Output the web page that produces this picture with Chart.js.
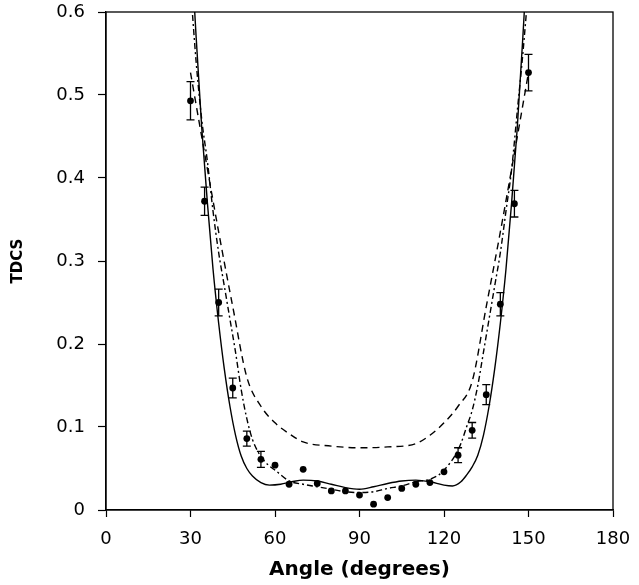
<!DOCTYPE html>
<html>
<head>
<meta charset="utf-8">
<script src="https://cdn.jsdelivr.net/npm/chart.js@4/dist/chart.umd.min.js"></script>
<style>
  html, body { margin: 0; padding: 0; background: #ffffff; }
  #wrap { width: 639px; height: 585px; }
</style>
</head>
<body>
<div id="wrap"><canvas id="c" width="639" height="585"></canvas></div>
<script>
// ---- Data ----
const expAngles = [30,35,40,45,50,55,60,65,70,75,80,85,90,95,100,105,110,115,120,125,130,135,140,145,150];
const expValues = [0.493,0.372,0.250,0.147,0.086,0.061,0.054,0.031,0.049,0.032,0.023,0.023,0.018,0.007,0.015,0.026,0.031,0.033,0.046,0.066,0.096,0.139,0.248,0.369,0.527];
const expErrors = [0.023,0.017,0.016,0.012,0.009,0.0096,null,null,null,null,null,null,null,null,null,null,null,null,null,0.009,0.0094,0.012,0.014,0.016,0.022];

const solidAngles = [30,32,34,36,38,40,42,44,46,48,50,52,55,58,62,66,70,75,80,85,90,95,100,105,110,115,120,123,126,128,130,132,134,136,138,140,142,144,146,148,150];
const solidValues = [0.69,0.57,0.46,0.37,0.29,0.225,0.17,0.125,0.09,0.065,0.05,0.041,0.033,0.030,0.031,0.034,0.036,0.035,0.031,0.027,0.025,0.028,0.032,0.035,0.036,0.034,0.030,0.029,0.034,0.042,0.052,0.066,0.09,0.125,0.17,0.225,0.29,0.37,0.46,0.57,0.69];

const dashAngles = [30,35,40,45,50,55,60,65,70,80,90,100,110,115,120,125,130,135,140,145,150];
const dashValues = [0.527,0.43,0.335,0.245,0.16,0.125,0.105,0.092,0.082,0.077,0.075,0.076,0.080,0.09,0.105,0.125,0.155,0.245,0.335,0.43,0.527];

const dashDotAngles = [30,32,34,36,38,40,42,44,46,48,50,52,54,56,58,60,65,70,75,80,85,90,95,100,105,110,115,118,120,122,124,126,128,130,132,134,136,138,140,142,144,146,148,150];
const dashDotValues = [0.63,0.54,0.47,0.42,0.36,0.31,0.27,0.23,0.19,0.145,0.11,0.085,0.07,0.06,0.053,0.048,0.035,0.031,0.028,0.025,0.022,0.021,0.022,0.026,0.029,0.034,0.037,0.042,0.048,0.056,0.066,0.08,0.10,0.12,0.15,0.19,0.23,0.27,0.31,0.36,0.41,0.48,0.55,0.63];

const xTicks = [0,30,60,90,120,150,180];
const yTicks = [0,0.1,0.2,0.3,0.4,0.5,0.6];

const toXY = (xs, ys) => xs.map((x, i) => ({x: x, y: ys[i]}));

// frame (top and right borders)
const framePlugin = {
  id: 'frame',
  afterDraw(chart) {
    const {ctx, chartArea: a} = chart;
    ctx.save();
    ctx.strokeStyle = '#000';
    ctx.lineWidth = 1.3;
    ctx.strokeRect(a.left, a.top, a.right - a.left, a.bottom - a.top);
    ctx.restore();
  }
};

// error bars computed through the chart's scales
const errorBarPlugin = {
  id: 'errorBars',
  afterDatasetsDraw(chart) {
    const {ctx, scales: {x, y}} = chart;
    ctx.save();
    ctx.strokeStyle = '#000';
    ctx.lineWidth = 1.3;
    expAngles.forEach((a, i) => {
      const e = expErrors[i];
      if (e == null) return;
      const px = x.getPixelForValue(a);
      const y1 = y.getPixelForValue(expValues[i] + e);
      const y2 = y.getPixelForValue(expValues[i] - e);
      ctx.beginPath();
      ctx.moveTo(px, y1); ctx.lineTo(px, y2);
      ctx.moveTo(px - 4, y1); ctx.lineTo(px + 4, y1);
      ctx.moveTo(px - 4, y2); ctx.lineTo(px + 4, y2);
      ctx.stroke();
    });
    ctx.restore();
  }
};

new Chart(document.getElementById('c'), {
  type: 'scatter',
  data: {
    datasets: [
      {
        label: 'Experiment',
        data: toXY(expAngles, expValues),
        showLine: false,
        pointRadius: 3.4,
        pointHoverRadius: 3.4,
        backgroundColor: '#000',
        borderColor: '#000',
        borderWidth: 0
      },
      {
        label: 'Solid',
        data: toXY(solidAngles, solidValues),
        showLine: true,
        pointRadius: 0,
        borderColor: '#000',
        borderWidth: 1.4,
        cubicInterpolationMode: 'monotone',
        fill: false
      },
      {
        label: 'Dashed',
        data: toXY(dashAngles, dashValues),
        showLine: true,
        pointRadius: 0,
        borderColor: '#000',
        borderWidth: 1.4,
        borderDash: [7, 5],
        cubicInterpolationMode: 'monotone',
        fill: false
      },
      {
        label: 'Dash-dot',
        data: toXY(dashDotAngles, dashDotValues),
        showLine: true,
        pointRadius: 0,
        borderColor: '#000',
        borderWidth: 1.4,
        borderDash: [6, 3, 2, 3],
        cubicInterpolationMode: 'monotone',
        fill: false
      }
    ]
  },
  options: {
    responsive: false,
    animation: false,
    events: [],
    layout: { padding: { top: 12, right: 26, left: 0, bottom: 0 } },
    plugins: {
      legend: { display: false },
      tooltip: { enabled: false },
      title: { display: false }
    },
    scales: {
      x: {
        type: 'linear',
        min: 0, max: 180,
        afterBuildTicks: s => { s.ticks = xTicks.map(v => ({value: v})); },
        afterFit: s => { s.height = 75; s.paddingLeft = 0; s.paddingRight = 0; },
        grid: { drawOnChartArea: false, color: '#000', tickColor: '#000', tickLength: 7, tickWidth: 1.2 },
        border: { display: true, color: '#000', width: 1.3 },
        ticks: {
          color: '#000',
          padding: 12,
          maxRotation: 0,
          font: { family: '"DejaVu Sans", sans-serif', size: 18 }
        },
        title: {
          display: true,
          text: 'Angle (degrees)',
          color: '#000',
          padding: { top: 2, bottom: 3 },
          font: { family: '"DejaVu Sans", sans-serif', size: 20, weight: 'bold' }
        }
      },
      y: {
        type: 'linear',
        min: 0, max: 0.6,
        afterBuildTicks: s => { s.ticks = yTicks.map(v => ({value: v})); },
        afterFit: s => { s.width = 106; s.paddingTop = 0; s.paddingBottom = 0; },
        grid: { drawOnChartArea: false, color: '#000', tickColor: '#000', tickLength: 8, tickWidth: 1.2 },
        border: { display: true, color: '#000', width: 1.3 },
        ticks: {
          color: '#000',
          padding: 13,
          callback: v => (v === 0 ? '0' : v.toFixed(1)),
          font: { family: '"DejaVu Sans", sans-serif', size: 18 }
        },
        title: {
          display: true,
          text: 'TDCS',
          color: '#000',
          padding: { top: 9, bottom: 0 },
          font: { family: '"DejaVu Sans", sans-serif', size: 15, weight: 'bold' }
        }
      }
    }
  },
  plugins: [framePlugin, errorBarPlugin]
});
</script>
</body>
</html>
